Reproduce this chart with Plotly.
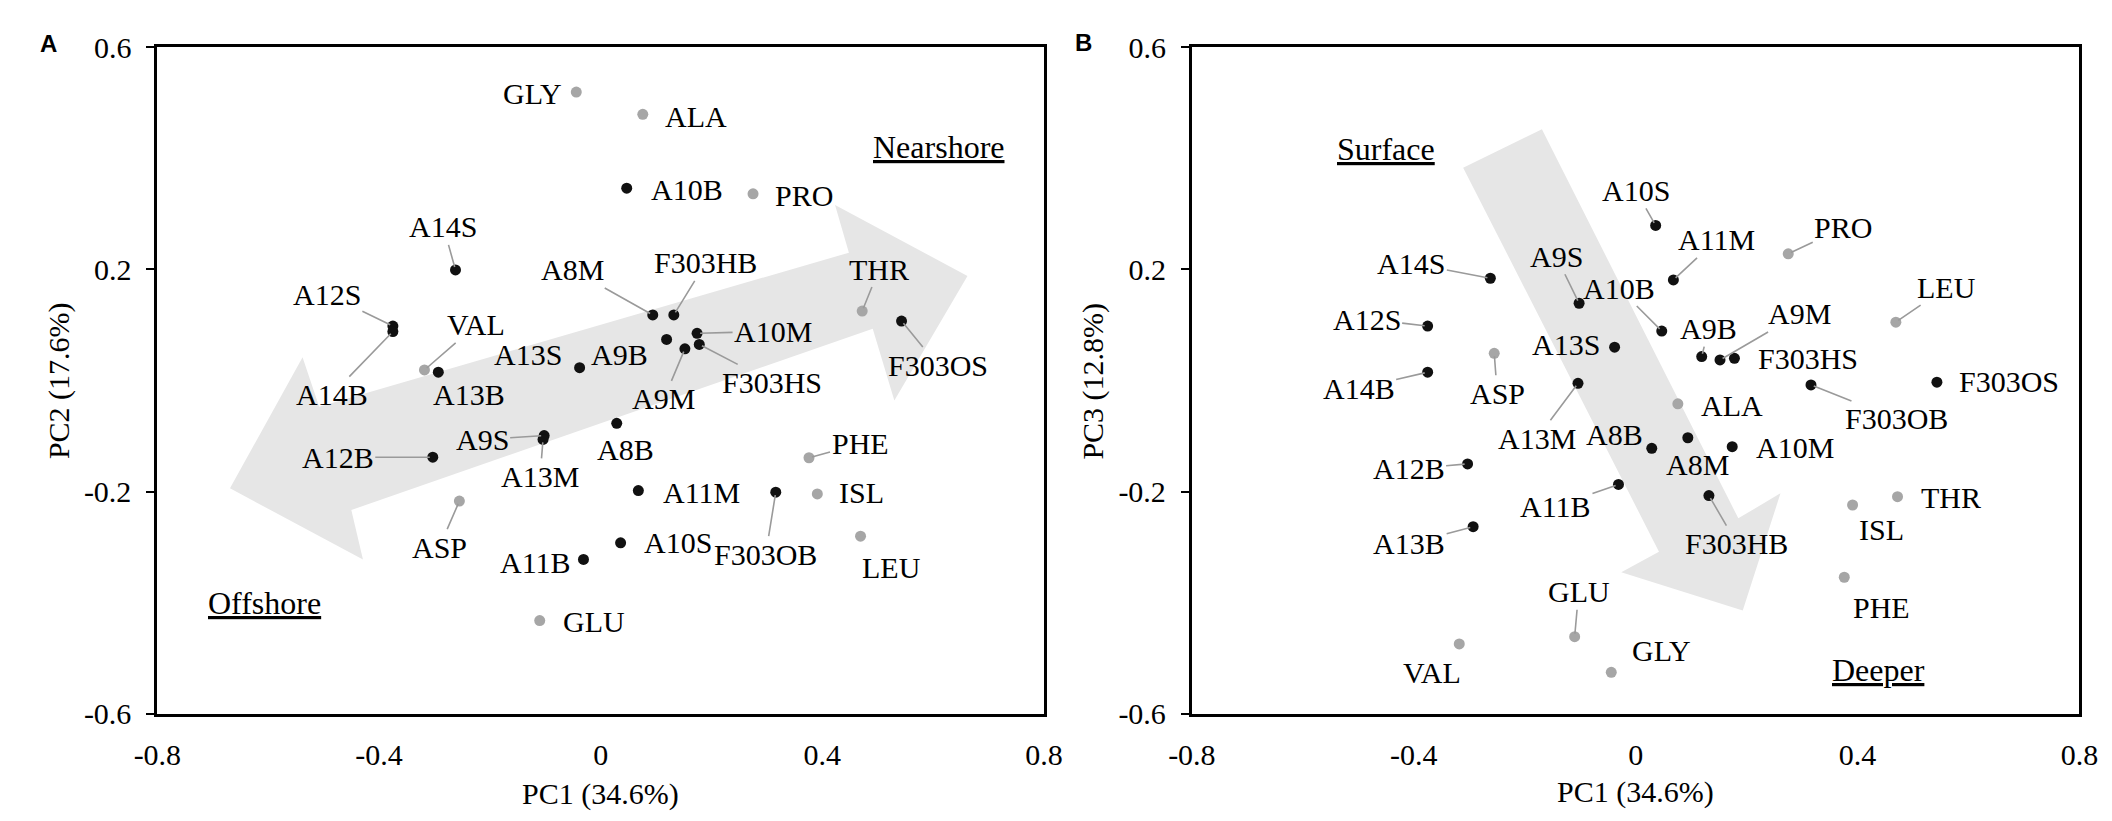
import plotly.graph_objects as go

# sample scores (black) and amino acid loadings (grey)
samples = ["A8B", "A8M", "A9S", "A9M", "A9B", "A10S", "A10M", "A10B", "A11M", "A11B",
           "A12S", "A12B", "A13S", "A13M", "A13B", "A14S", "A14B",
           "F303HS", "F303HB", "F303OS", "F303OB"]
sample_pc1 = [0.029, 0.094, -0.102, 0.152, 0.119, 0.036, 0.174, 0.047, 0.068, -0.031,
              -0.375, -0.303, -0.038, -0.104, -0.293, -0.262, -0.375,
              0.178, 0.132, 0.543, 0.316]
sample_pc2 = [-0.077, 0.118, -0.099, 0.057, 0.074, -0.292, 0.085, 0.346, -0.198, -0.322,
              0.098, -0.138, 0.023, -0.106, 0.015, 0.199, 0.088,
              0.065, 0.118, 0.107, -0.201]
sample_pc3 = [-0.122, -0.103, 0.139, 0.037, 0.043, 0.279, -0.119, 0.089, 0.181, -0.187,
              0.098, -0.150, 0.060, -0.005, -0.263, 0.184, 0.015,
              0.040, -0.207, -0.003, -0.008]

acids = ["GLY", "ALA", "PRO", "VAL", "THR", "ASP", "PHE", "ISL", "LEU", "GLU"]
acid_pc1 = [-0.044, 0.076, 0.275, -0.318, 0.472, -0.255, 0.376, 0.391, 0.469, -0.110]
acid_pc2 = [0.519, 0.479, 0.336, 0.019, 0.125, -0.217, -0.139, -0.204, -0.280, -0.432]
acid_pc3 = [-0.525, -0.042, 0.228, -0.474, -0.209, 0.049, -0.354, -0.224, 0.105, -0.461]

# big grey arrows (outline in data units)
arrow_a_x = [-0.669, -0.538, -0.508, 0.448, 0.423, 0.662, 0.530, 0.491, -0.450, -0.429, -0.669]
arrow_a_y = [-0.194, 0.042, -0.047, 0.230, 0.316, 0.188, -0.036, 0.093, -0.233, -0.322, -0.194]
arrow_b_x = [-0.311, -0.169, 0.185, 0.261, 0.193, -0.026, 0.042, -0.311]
arrow_b_y = [0.383, 0.452, -0.248, -0.203, -0.414, -0.345, -0.308, 0.383]

ticks_x = [-0.8, -0.4, 0, 0.4, 0.8]
ticks_x_text = ["-0.8", "-0.4", "0", "0.4", "0.8"]
ticks_y = [-0.6, -0.2, 0.2, 0.6]
ticks_y_text = ["-0.6", "-0.2", "0.2", "0.6"]

# label placement: pixel offset from the point, and whether a leader line is drawn
labels_a = {
    "GLY": (-44, 1, False), "ALA": (53, 2, False), "A10B": (60, 1, False), "PRO": (51, 2, False),
    "A14S": (-12, -43, True), "A12S": (-66, -32, True), "A14B": (-61, 63, True),
    "VAL": (52, -45, True), "A13B": (31, 22, False), "A13S": (-52, -13, False),
    "A9B": (-47, 15, False), "A8M": (-80, -45, True), "F303HB": (32, -52, True),
    "A10M": (76, -2, True), "F303HS": (73, 38, True), "A9M": (-21, 50, True),
    "THR": (17, -42, True), "F303OS": (36, 44, True), "A9S": (-62, 4, True),
    "A13M": (-3, 37, True), "A12B": (-95, 0, True), "A8B": (9, 26, False),
    "A11M": (63, 2, False), "F303OB": (-10, 62, True), "ASP": (-20, 46, True),
    "A10S": (57, 0, False), "A11B": (-48, 3, False), "GLU": (54, 1, False),
    "PHE": (51, -14, True), "ISL": (44, -1, False), "LEU": (31, 31, False),
}
labels_b = {
    "A10S": (-20, -35, True), "A11M": (43, -40, True), "PRO": (55, -26, True),
    "A14S": (-79, -15, True), "A9S": (-23, -47, True), "A10B": (-43, -43, True),
    "A9B": (7, -28, True), "A9M": (79, -46, True), "F303HS": (74, 0, False),
    "A12S": (-61, -7, True), "A13S": (-49, -3, False), "ASP": (3, 40, True),
    "A14B": (-69, 16, True), "A13M": (-41, 55, True), "ALA": (54, 2, False),
    "F303OB": (86, 34, True), "F303OS": (72, -1, False), "LEU": (51, -35, True),
    "A8B": (-37, -14, False), "A8M": (10, 27, False), "A10M": (63, 1, False),
    "A12B": (-59, 5, True), "A11B": (-63, 22, True), "A13B": (-64, 17, True),
    "F303HB": (28, 48, True), "ISL": (29, 24, False), "THR": (53, 1, False),
    "PHE": (37, 30, False), "GLU": (4, -45, True), "GLY": (50, -22, False),
    "VAL": (-27, 29, False),
}

SERIF = "Liberation Serif, Times New Roman, serif"
BLACK = "#111111"
GREY = "#a6a6a6"
LEADER = "#9a9a9a"

fig = go.Figure()
annotations = []

panels = [
    ("x", "y", sample_pc2, acid_pc2, arrow_a_x, arrow_a_y, labels_a),
    ("x2", "y2", sample_pc3, acid_pc3, arrow_b_x, arrow_b_y, labels_b),
]
for xr, yr, s_y, a_y, arr_x, arr_y, labs in panels:
    fig.add_trace(go.Scatter(x=arr_x, y=arr_y, xaxis=xr, yaxis=yr, mode="lines",
                             fill="toself", fillcolor="#e6e6e6", line=dict(width=0),
                             hoverinfo="skip", showlegend=False))
    fig.add_trace(go.Scatter(x=acid_pc1, y=a_y, xaxis=xr, yaxis=yr, mode="markers",
                             marker=dict(size=11, color=GREY), text=acids, showlegend=False))
    fig.add_trace(go.Scatter(x=sample_pc1, y=s_y, xaxis=xr, yaxis=yr, mode="markers",
                             marker=dict(size=11, color=BLACK), text=samples, showlegend=False))
    pts = list(zip(samples, sample_pc1, s_y)) + list(zip(acids, acid_pc1, a_y))
    for name, px_, py_ in pts:
        dx, dy, leader = labs[name]
        ann = dict(x=px_, y=py_, xref=xr, yref=yr, text=name,
                   font=dict(family=SERIF, size=30, color="black"))
        if leader:
            ann.update(showarrow=True, ax=dx, ay=dy, arrowhead=0, arrowwidth=1.6,
                       arrowcolor=LEADER, standoff=3)
        else:
            ann.update(showarrow=False, xshift=dx, yshift=-dy)
        annotations.append(ann)

# direction words
words = [("Nearshore", 0.61, 0.42, "x", "y"), ("Offshore", -0.606, -0.401, "x", "y"),
         ("Surface", -0.45, 0.417, "x2", "y2"), ("Deeper", 0.437, -0.52, "x2", "y2")]
for w, wx, wy, xr, yr in words:
    annotations.append(dict(x=wx, y=wy, xref=xr, yref=yr, text="<u>" + w + "</u>",
                            showarrow=False, font=dict(family=SERIF, size=32, color="black")))

# axis titles and panel letters
for t, tx, ty, ang in [("PC1 (34.6%)", 0.2746, 0.024, 0), ("PC1 (34.6%)", 0.775, 0.026, 0),
                       ("PC2 (17.6%)", 0.0128, 0.548, -90), ("PC3 (12.8%)", 0.5128, 0.548, -90)]:
    annotations.append(dict(x=tx, y=ty, xref="paper", yref="paper", text=t, textangle=ang,
                            xanchor="center", yanchor="middle", showarrow=False,
                            font=dict(family=SERIF, size=30, color="black")))
for t, tx, ty in [("A", 0.008, 0.975), ("B", 0.508, 0.977)]:
    annotations.append(dict(x=tx, y=ty, xref="paper", yref="paper", text="<b>" + t + "</b>",
                            xanchor="center", yanchor="middle", showarrow=False,
                            font=dict(family="Liberation Sans, Arial, sans-serif", size=24,
                                      color="black")))

xaxis_style = dict(range=[-0.8, 0.8], tickvals=ticks_x, ticktext=ticks_x_text, showgrid=False,
                   zeroline=False, showline=True, linecolor="black", linewidth=3, mirror=True,
                   ticks="", ticklabelstandoff=12,
                   tickfont=dict(family=SERIF, size=30, color="black"))
yaxis_style = dict(range=[-0.6, 0.6], tickvals=ticks_y, ticktext=ticks_y_text, showgrid=False,
                   zeroline=False, showline=True, linecolor="black", linewidth=3, mirror=True,
                   ticks="outside", ticklen=8, tickwidth=2, tickcolor="black",
                   ticklabelstandoff=9,
                   tickfont=dict(family=SERIF, size=30, color="black"))

fig.update_layout(
    width=2112, height=821,
    margin=dict(l=0, r=0, t=0, b=0),
    paper_bgcolor="white", plot_bgcolor="white",
    xaxis=dict(domain=[0.0606, 0.4891], anchor="y", **xaxis_style),
    yaxis=dict(domain=[0.1255, 0.9708], anchor="x", **yaxis_style),
    xaxis2=dict(domain=[0.5606, 0.9896], anchor="y2", **xaxis_style),
    yaxis2=dict(domain=[0.1255, 0.9708], anchor="x2", **yaxis_style),
    annotations=annotations,
    showlegend=False,
)

fig.write_html("out.html")
